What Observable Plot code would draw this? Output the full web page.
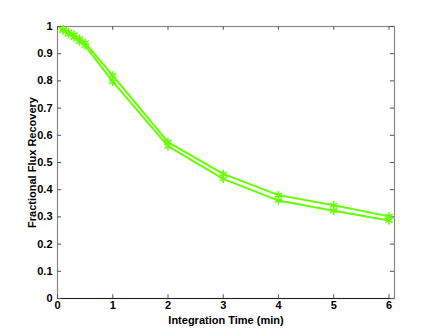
<!DOCTYPE html>
<html><head><meta charset="utf-8">
<script src="https://cdn.jsdelivr.net/npm/d3@7"></script>
<script src="https://cdn.jsdelivr.net/npm/@observablehq/plot@0.6"></script>
<style>body{margin:0;background:#fff}</style>
</head><body><div id="chart"></div>
<script>
const times = [0.1, 0.2, 0.3, 0.4, 0.5, 1, 2, 3, 4, 5, 6];
const upper = [0.99, 0.98, 0.97, 0.955, 0.94, 0.82, 0.575, 0.458, 0.38, 0.343, 0.302];
const lower = [0.985, 0.972, 0.96, 0.945, 0.93, 0.797, 0.56, 0.44, 0.36, 0.323, 0.287];
const xTicks = [0, 1, 2, 3, 4, 5, 6];
const yTicks = [0, 0.1, 0.2, 0.3, 0.4, 0.5, 0.6, 0.7, 0.8, 0.9, 1];
const xLabel = "Integration Time (min)";
const yLabel = "Fractional Flux Recovery";

const data = [
  ...times.map((t, i) => ({t, v: upper[i], s: "upper"})),
  ...times.map((t, i) => ({t, v: lower[i], s: "lower"}))
];
const green = "#66ff00";
const xMax = 6.1;

const chart = Plot.plot({
  width: 436, height: 336,
  marginLeft: 57, marginRight: 42, marginTop: 26, marginBottom: 38,
  style: {fontFamily: "Liberation Sans, Arial, sans-serif", fontSize: "11px", fontWeight: "bold", color: "#000"},
  x: {domain: [0, xMax]},
  y: {domain: [0, 1]},
  marks: [
    Plot.frame({stroke: "#888", strokeWidth: 1.2}),
    Plot.ruleY([0], {stroke: "#222", strokeWidth: 1.2}),
    Plot.ruleX(xTicks, {y1: 0, y2: 0.014, stroke: "#555"}),
    Plot.ruleX(xTicks, {y1: 0.986, y2: 1, stroke: "#555"}),
    Plot.ruleY(yTicks, {x1: 0, x2: 0.075, stroke: "#555"}),
    Plot.ruleY(yTicks, {x1: xMax - 0.075, x2: xMax, stroke: "#555"}),
    Plot.axisX(xTicks, {tickSize: 0, tickPadding: 3, label: null, fontSize: 11, fontWeight: "bold"}),
    Plot.axisY(yTicks, {tickSize: 0, tickPadding: 5, label: null, tickFormat: d => String(d), fontSize: 11, fontWeight: "bold"}),
    Plot.text([xLabel], {frameAnchor: "bottom", dy: 25, fontSize: 11, fontWeight: "bold"}),
    Plot.text([yLabel], {frameAnchor: "left", dx: -25, rotate: -90, textAnchor: "middle", fontSize: 11, fontWeight: "bold"}),
    Plot.line(data, {x: "t", y: "v", z: "s", stroke: green, strokeWidth: 2}),
    Plot.dot(data, {x: "t", y: "v", symbol: "asterisk", r: 4, stroke: green, strokeWidth: 1.5})
  ]
});
document.getElementById("chart").append(chart);
</script>
</body></html>
